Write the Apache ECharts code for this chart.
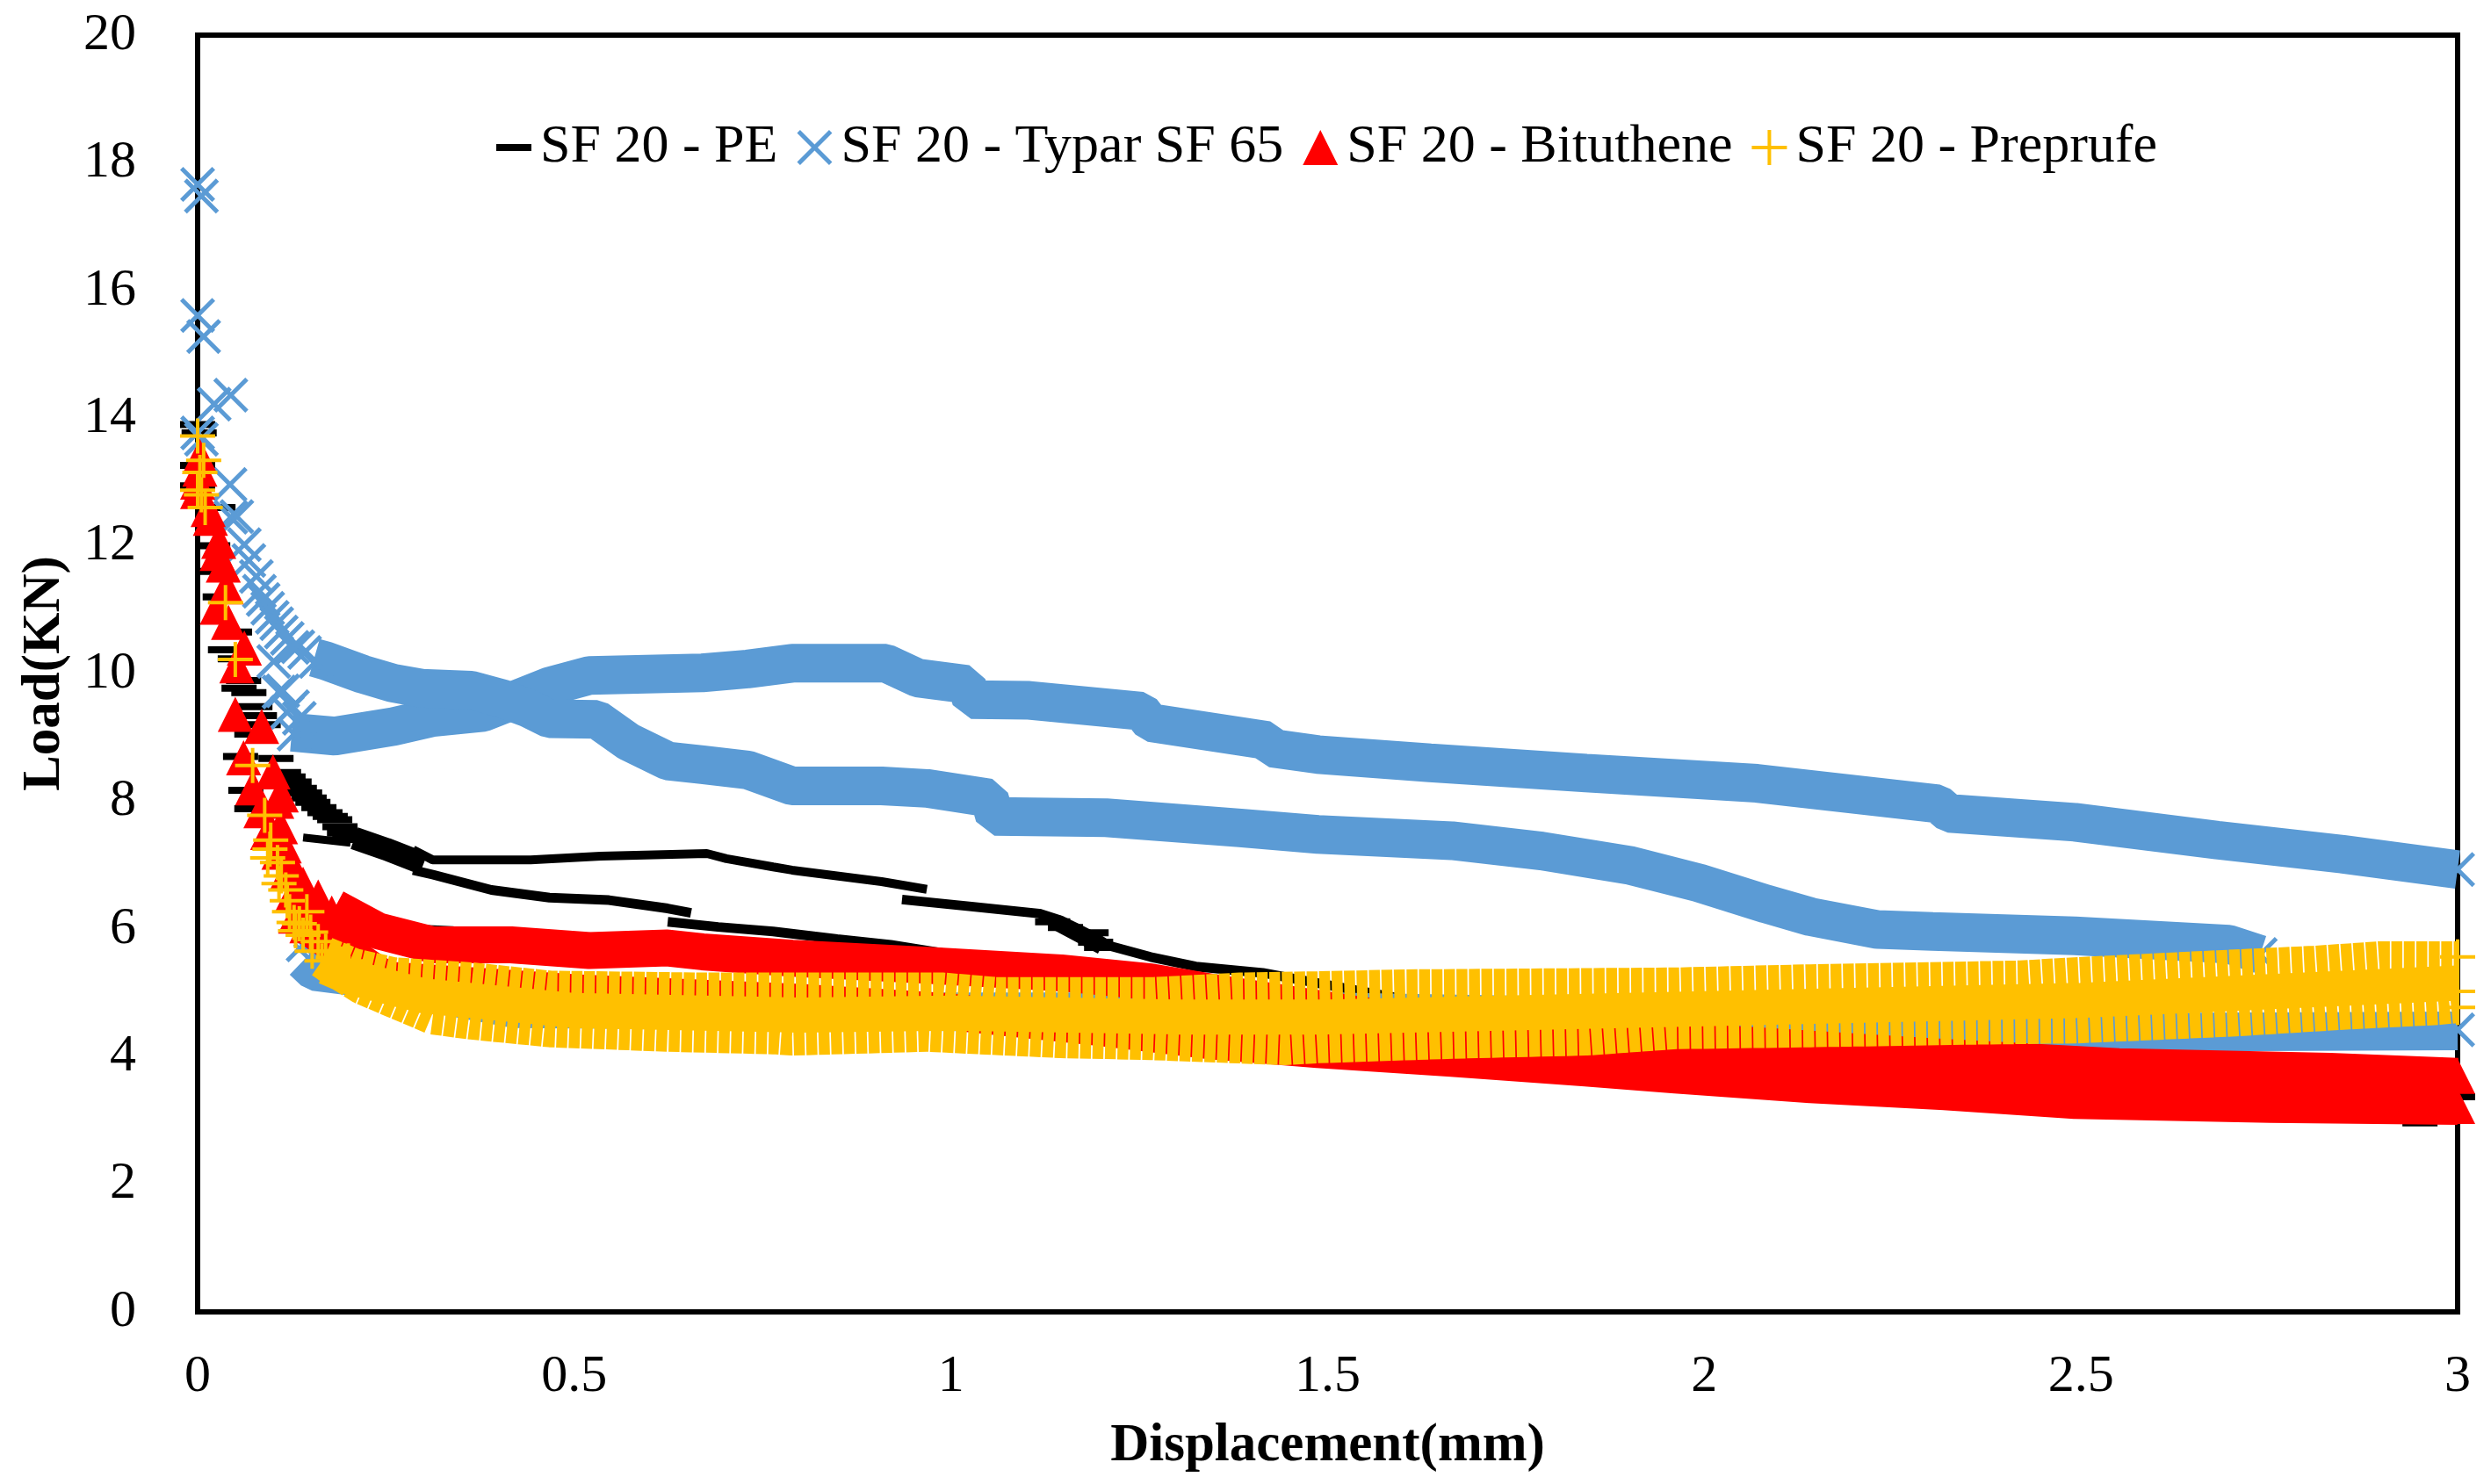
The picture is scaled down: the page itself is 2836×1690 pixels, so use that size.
<!DOCTYPE html>
<html>
<head>
<meta charset="utf-8">
<style>html,body{margin:0;padding:0;background:#fff}#c{width:2836px;height:1690px}</style>
<script src="https://cdn.jsdelivr.net/npm/echarts@6/dist/echarts.min.js"></script>
</head>
<body>
<div id="c"></div>
<script>
// ---- legend names ----
const namePE = 'SF 20 - PE';
const nameTypar = 'SF 20 - Typar SF 65';
const nameBit = 'SF 20 - Bituthene';
const namePre = 'SF 20 - Preprufe';

// ---- SF 20 - PE : individual readings and dense traces ----
const peMarks = [[0,13.9],[0.002,13.77],[0,13.26],[0,12.94],[0.027,12.6],[0.02,12.0],[0.02,11.6],[0.03,11.2],[0.049,10.65],[0.037,10.37],[0.05,10.23],[0.061,9.89],[0.055,9.77],[0.068,9.7],[0.076,9.48],[0.082,9.34],[0.087,9.2],[0.072,9.05],[0.057,8.7],[0.104,8.67],[0.064,8.17],[0.072,7.88],[0.114,8.45],[0.128,8.3],[0.142,8.13],[0.153,7.98],[0.169,7.82],[0.182,7.71],[0.195,7.5],[0.208,7.4],[0.12,8.38],[0.135,8.2],[0.148,8.05],[0.161,7.9],[0.176,7.76],[0.189,7.6],[0.202,7.45],[1.135,6.11],[1.152,6.02],[1.186,5.94],[1.192,5.79],[1.2,5.71],[3,3.37],[2.95,2.96]];
const peTraceA = [[0.286,7.24],[0.312,7.08],[0.442,7.08],[0.535,7.14],[0.676,7.18],[0.702,7.1],[0.764,6.97],[0.789,6.92],[0.908,6.74],[0.968,6.62]];
const peTraceB = [[0.935,6.46],[1.027,6.35],[1.117,6.24],[1.146,6.13],[1.164,6.03],[1.194,5.85],[1.209,5.74],[1.265,5.56],[1.325,5.41],[1.414,5.31],[1.6,4.9],[2,4.2],[2.5,3.7],[3,3.37]];
const peTraceC = [[0.286,6.92],[0.312,6.85],[0.39,6.61],[0.467,6.49],[0.546,6.45],[0.624,6.32],[0.655,6.25]];
const peTraceD = [[0.624,6.11],[0.691,6.03],[0.764,5.96],[0.849,5.84],[0.92,5.75],[1.0,5.6]];
const peTraceE = [[0.14,7.43],[0.203,7.35]];
const peTraceF = [[0.2,6.4],[0.24,6.13],[0.3,6.0],[0.338,5.98],[0.5,5.75],[0.7,5.6]];
const peBroadLeft = [[0.208,7.42],[0.25,7.25],[0.3,7.02]];
const peBroadRight = [[1.14,6.1],[1.2,5.72]];

// ---- SF 20 - Typar SF 65 ----
const typarMarks = [[0,17.66],[0.005,17.48],[0,15.61],[0.008,15.28],[0.044,14.36],[0.022,14.22],[0,13.77],[0.005,13.67],[0.043,12.96],[0.044,12.45],[0.052,12.46],[0.062,12.02],[0.068,11.77],[0.078,11.52],[0.082,11.29],[0.087,11.16],[0.093,11.02],[0.099,10.88],[0.105,10.78],[0.111,10.65],[0.119,10.55],[0.126,10.41],[0.133,10.42],[0.142,10.33],[0.157,10.19],[0.101,10.19],[0.113,9.73],[0.126,9.48],[0.108,9.71],[0.119,9.39],[0.135,9.3],[0.128,9.05],[0.14,5.75],[0.15,5.51],[3,6.93],[3,4.42],[2.738,5.6]];
const typarTraceA = [[0.125,9.08],[0.182,9.02],[0.26,9.17],[0.312,9.31],[0.379,9.39],[0.467,9.8],[0.52,9.97],[0.67,10.01],[0.73,10.07],[0.789,10.16],[0.914,10.16],[0.956,9.93],[1.021,9.83],[1.027,9.59],[1.104,9.58],[1.253,9.41],[1.265,9.23],[1.42,8.95],[1.426,8.83],[1.487,8.73],[1.636,8.6],[1.843,8.44],[2.07,8.28],[2.31,7.96],[2.325,7.81],[2.492,7.67],[2.681,7.39],[2.847,7.17],[3,6.93]];
const typarTraceB = [[0.155,10.25],[0.17,10.2],[0.219,9.99],[0.259,9.85],[0.297,9.77],[0.363,9.74],[0.406,9.6],[0.44,9.45],[0.467,9.29],[0.53,9.28],[0.572,8.93],[0.624,8.63],[0.67,8.57],[0.73,8.49],[0.789,8.24],[0.908,8.24],[0.968,8.2],[1.051,8.05],[1.058,7.76],[1.206,7.74],[1.384,7.58],[1.487,7.48],[1.665,7.38],[1.784,7.22],[1.903,6.99],[1.993,6.72],[2.082,6.39],[2.141,6.19],[2.23,5.99],[2.303,5.96],[2.492,5.89],[2.696,5.76],[2.738,5.6]];
const typarTraceC = [[0.14,5.5],[0.155,5.33],[0.21,5.25],[0.33,4.95],[0.42,4.75],[1,4.7],[1.5,4.7],[2,4.6],[2.3,4.5],[2.6,4.38],[3,4.4]];

// ---- SF 20 - Bituthene ----
const bitMarks = [[0.003,13.4],[0.003,13.2],[0,13.0],[0,12.85],[0.014,12.57],[0.017,12.43],[0.028,12.07],[0.026,11.88],[0.034,11.7],[0.038,11.36],[0.026,11.04],[0.041,10.8],[0.062,10.4],[0.052,10.12],[0.05,9.36],[0.085,9.17],[0.061,8.68],[0.1,8.46],[0.073,8.21],[0.111,8.1],[0.084,7.85],[0.093,7.51],[0.108,7.2],[0.119,6.88],[0.125,6.52],[0.13,6.2],[0.105,8.0],[0.11,7.6],[0.115,7.3],[0.125,7.0],[0.14,6.7],[0.16,6.5],[0.132,6.6],[0.15,6.35],[0.165,6.3],[0.178,6.25],[0.192,6.15],[0.2,6.05],[0.145,6.05],[3,3.69],[3,3.22]];
const bitTraceUpper = [[0.182,6.33],[0.239,5.97],[0.312,5.75],[0.416,5.75],[0.52,5.66],[0.624,5.7],[0.67,5.64],[0.789,5.54],[0.968,5.43],[1.146,5.31],[1.265,5.17],[1.355,4.99],[1.6,4.55],[1.96,4.25],[2.3,4.0],[2.55,3.84],[2.83,3.77],[3,3.69]];
const bitTraceLower = [[0.14,6.09],[0.2,5.6],[0.25,5.2],[0.5,5.0],[0.8,4.85],[1.0,4.7],[1.2,4.45],[1.34,4.25],[1.487,4.11],[1.665,3.97],[1.843,3.82],[1.962,3.71],[2.141,3.56],[2.319,3.45],[2.492,3.31],[2.752,3.25],[3,3.22]];

// ---- SF 20 - Preprufe ----
const preMarks = [[0,13.72],[0.008,13.34],[0.003,13.15],[0,12.87],[0.005,12.8],[0.01,12.6],[0.037,11.11],[0.05,10.22],[0.073,8.56],[0.089,7.78],[0.097,7.39],[0.096,7.25],[0.093,7.11],[0.106,7.04],[0.111,6.83],[0.108,6.71],[0.117,6.61],[0.119,6.44],[0.122,6.27],[0.135,6.08],[0.13,5.97],[0.145,6.27],[0.128,6.1],[0.14,5.9],[0.15,5.95],[0.16,5.8],[0.152,5.65],[0.17,5.65],[0.165,5.5],[0.18,5.55],[0.19,5.45],[0.2,5.5],[3,5.56],[3,5.02],[3,4.77]];
const preTraceUpper = [[0.17,5.6],[0.208,5.42],[0.26,5.28],[0.364,5.2],[0.468,5.07],[0.67,5.04],[0.99,5.04],[1.06,4.97],[1.27,4.97],[1.384,5.04],[1.487,5.06],[1.603,5.09],[1.962,5.12],[2.141,5.17],[2.42,5.23],[2.492,5.28],[2.682,5.39],[2.81,5.46],[2.897,5.53],[3,5.53]];
const preTraceMiddle = [[0.17,5.4],[0.2,5.25],[0.3,4.95],[0.5,4.72],[0.8,4.65],[1,4.68],[1.3,4.62],[1.5,4.62],[2,4.75],[2.5,4.88],[3,5.15]];
const preTraceLower = [[0.165,5.5],[0.176,5.41],[0.218,5.09],[0.26,4.88],[0.312,4.62],[0.364,4.54],[0.468,4.42],[0.624,4.35],[0.764,4.31],[0.789,4.29],[0.968,4.35],[1.146,4.25],[1.265,4.22],[1.443,4.14],[1.487,4.17],[1.665,4.24],[1.843,4.29],[1.962,4.39],[2.141,4.42],[2.349,4.46],[2.492,4.48],[2.705,4.59],[2.856,4.7],[2.975,4.77],[3,4.8]];

// ---- axis ticks ----
const xMin = 0, xMax = 3, xStep = 0.5;
const yMin = 0, yMax = 20, yStep = 2;

// ---- marker glyphs ----
const dashPath = 'path://M0,0L0,0ZM0,16H40V24H0ZM40,40L40,40Z';
const crossPath = 'path://M0,3.5L3.5,0L20,16.5L36.5,0L40,3.5L23.5,20L40,36.5L36.5,40L20,23.5L3.5,40L0,36.5L16.5,20Z';
const triPath = 'path://M20,0L40,40H0Z';
const plusPath = 'path://M18,0H22V18H40V22H22V40H18V22H0V18H18Z';
const dashLegend = 'path://M0,0L0,0ZM0,16H40V24H0ZM45,40L45,40Z';
const crossLegend = 'path://M0,3.5L3.5,0L20,16.5L36.5,0L40,3.5L23.5,20L40,36.5L36.5,40L20,23.5L3.5,40L0,36.5L16.5,20ZM45,40L45,40Z';
const triLegend = 'path://M20,0L40,40H0ZM45,40L45,40Z';
const plusLegend = 'path://M18,0H22V18H40V22H22V40H18V22H0V18H18ZM45,40L45,40Z';

const BLACK = '#000000', BLUE = '#5B9BD5', RED = '#FF0000', GOLD = '#FFC000';
const FONT = '"Liberation Serif","Times New Roman",serif';

function trace(name, data, color, width, z, dash) {
  return {
    name: name, type: 'line', data: data, symbol: 'none', smooth: false, clip: false, silent: true, z: z,
    lineStyle: {color: color, width: width, cap: 'butt', join: 'bevel', type: dash || 'solid'},
    animation: false
  };
}
function marks(name, data, symbol, color, z) {
  return {
    name: name, type: 'scatter', data: data, symbol: symbol, symbolSize: 40, clip: false, silent: true, z: z,
    itemStyle: {color: color, opacity: 1}, animation: false
  };
}

const series = [
  trace('pe-a', peTraceA, BLACK, 10, 2),
  trace('pe-b', peTraceB, BLACK, 11, 2),
  trace('pe-c', peTraceC, BLACK, 11, 2),
  trace('pe-d', peTraceD, BLACK, 11, 2),
  trace('pe-e', peTraceE, BLACK, 9, 2),
  trace('pe-f', peTraceF, BLACK, 9, 2),
  trace('pe-broad-left', peBroadLeft, BLACK, 26, 2),
  trace('pe-broad-right', peBroadRight, BLACK, 18, 2),
  marks(namePE, peMarks, dashPath, BLACK, 3),
  trace('typar-a', typarTraceA, BLUE, 44, 4),
  trace('typar-b', typarTraceB, BLUE, 44, 4),
  trace('typar-c', typarTraceC, BLUE, 44, 4),
  marks(nameTypar, typarMarks, crossPath, BLUE, 5),
  trace('bit-u', bitTraceUpper, RED, 42, 6),
  trace('bit-l', bitTraceLower, RED, 42, 6),
  marks(nameBit, bitMarks, triPath, RED, 7),
  trace('pre-u', preTraceUpper, GOLD, 40, 8, [12.5, 1.7]),
  trace('pre-l', preTraceLower, GOLD, 40, 8, [12.5, 1.7]),
  trace('pre-m', preTraceMiddle, GOLD, 40, 8),
  marks(namePre, preMarks, plusPath, GOLD, 9)
];

const chart = echarts.init(document.getElementById('c'), null, {renderer: 'canvas', width: 2836, height: 1690});
chart.setOption({
  animation: false,
  backgroundColor: '#ffffff',
  grid: {show: true, left: 225, right: 38, top: 40, bottom: 196, borderColor: '#000', borderWidth: 6, backgroundColor: 'transparent', containLabel: false, outerBoundsMode: 'none'},
  legend: {
    left: 560, top: 132, orient: 'horizontal', selectedMode: false,
    itemWidth: 45, itemHeight: 40, itemGap: 22,
    textStyle: {fontFamily: FONT, fontSize: 62, color: '#000'},
    data: [
      {name: namePE, icon: dashLegend, itemStyle: {color: BLACK}},
      {name: nameTypar, icon: crossLegend, itemStyle: {color: BLUE}},
      {name: nameBit, icon: triLegend, itemStyle: {color: RED}},
      {name: namePre, icon: plusLegend, itemStyle: {color: GOLD}}
    ]
  },
  xAxis: {
    type: 'value', min: xMin, max: xMax, interval: xStep,
    name: 'Displacement(mm)', nameLocation: 'middle', nameGap: 123,
    nameTextStyle: {fontFamily: FONT, fontSize: 61, fontWeight: 'bold', color: '#000'},
    axisLine: {show: false}, axisTick: {show: false}, splitLine: {show: false},
    axisLabel: {fontFamily: FONT, fontSize: 60, color: '#000', margin: 44}
  },
  yAxis: {
    type: 'value', min: yMin, max: yMax, interval: yStep,
    name: 'Load(KN)', nameLocation: 'middle', nameGap: 143,
    nameTextStyle: {fontFamily: FONT, fontSize: 61, fontWeight: 'bold', color: '#000'},
    axisLine: {show: false}, axisTick: {show: false}, splitLine: {show: false},
    axisLabel: {fontFamily: FONT, fontSize: 60, color: '#000', margin: 70}
  },
  series: series
});
</script>
</body>
</html>
